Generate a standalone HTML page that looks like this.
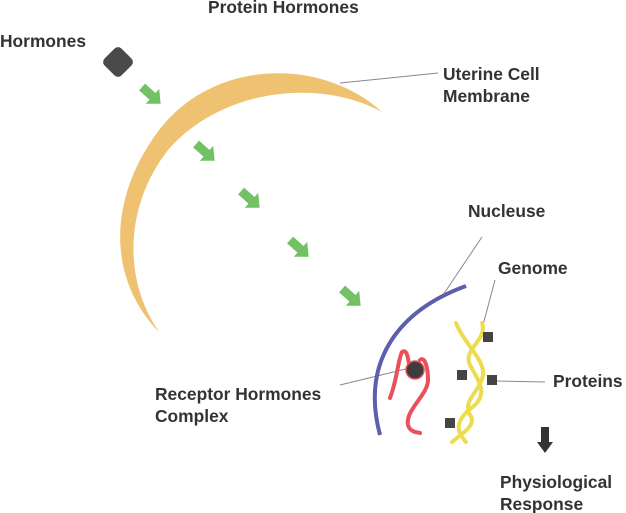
<!DOCTYPE html>
<html><head><style>
html,body{margin:0;padding:0;background:#fff;}
svg{display:block;}
text{font-family:"Liberation Sans",sans-serif;font-weight:bold;font-size:17.4px;fill:#333;}
</style></head><body>
<svg width="626" height="513" viewBox="0 0 626 513">
<defs>
<path id="ar" d="M-12,-4.5 L2,-4.5 L2,-10 L13,0 L2,10 L2,4.5 L-12,4.5 Z" fill="#72c164"/>
</defs>
<text x="208" y="13">Protein Hormones</text>
<text x="0" y="47">Hormones</text>
<text x="443" y="80">Uterine Cell</text>
<text x="443" y="102">Membrane</text>
<text x="468" y="217">Nucleuse</text>
<text x="498" y="274">Genome</text>
<text x="553" y="387">Proteins</text>
<text x="155" y="400">Receptor Hormones</text>
<text x="155" y="422">Complex</text>
<text x="500" y="488">Physiological</text>
<text x="500" y="510">Response</text>
<!-- membrane crescent -->
<path d="M382,112 C320,55 205,58 152,140 C105,210 112,285 160,333 C122,280 125,205 168,150 C222,88 320,78 382,112 Z" fill="#efc272"/>
<!-- diamond -->
<rect x="106" y="50" width="24" height="24" rx="5" fill="#4a4a4a" transform="rotate(45 118 62)"/>
<!-- arrows -->
<use href="#ar" transform="translate(151,95) rotate(42)"/>
<use href="#ar" transform="translate(205,152) rotate(42)"/>
<use href="#ar" transform="translate(250,199) rotate(42)"/>
<use href="#ar" transform="translate(299,248) rotate(42)"/>
<use href="#ar" transform="translate(351,297) rotate(42)"/>
<!-- leader lines -->
<g stroke="#888" stroke-width="1" fill="none">
<line x1="340" y1="83" x2="438" y2="73"/>
<line x1="443" y1="295" x2="482" y2="237"/>
<line x1="483" y1="325" x2="495" y2="280"/>
<line x1="495" y1="381" x2="545" y2="382"/>
<line x1="340" y1="385" x2="410" y2="368"/>
</g>
<!-- nucleus arc -->
<path d="M466,286 C400,310 360,360 380,435" stroke="#5d5fae" stroke-width="4" fill="none"/>
<!-- red receptor -->
<path d="M390,398 C397,380 398,360 402,352 C408,348 408,362 410,368 M420,360 C425,356 428,368 428,380 C428,395 405,410 408,425 C410,432 416,432 420,433" stroke="#e9505a" stroke-width="4" fill="none" stroke-linecap="round"/>
<circle cx="415" cy="370" r="9" fill="#3d3d3d" stroke="#e9505a" stroke-width="1.5"/>
<!-- yellow strands -->
<g stroke="#eedc4f" stroke-width="4" fill="none" stroke-linecap="round">
<path d="M456,323 C465,345 485,360 483,375 C480,392 462,400 470,415 C478,425 460,435 452,442"/>
<path d="M482,323 C488,340 462,350 470,365 C478,380 488,392 475,405 C455,420 455,430 466,442"/>
</g>
<g fill="#444">
<rect x="483" y="332" width="10" height="10"/>
<rect x="457" y="370" width="10" height="10"/>
<rect x="487" y="375" width="10" height="10"/>
<rect x="445" y="418" width="10" height="10"/>
</g>
<!-- down arrow -->
<path d="M541,427 L549,427 L549,442 L553,442 L545,453 L537,442 L541,442 Z" fill="#333"/>
</svg>
</body></html>
